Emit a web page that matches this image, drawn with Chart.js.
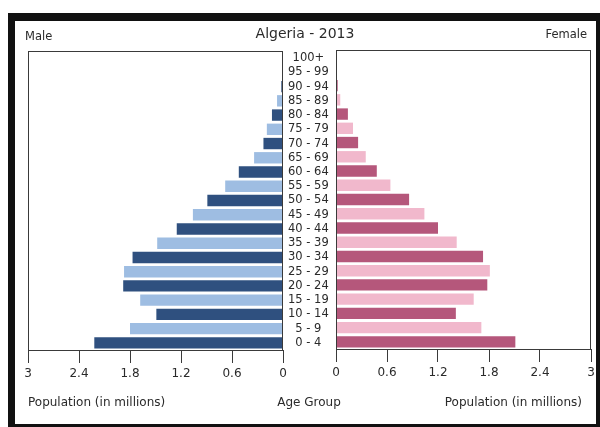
<!DOCTYPE html>
<html>
<head>
<meta charset="utf-8">
<script src="https://cdn.jsdelivr.net/npm/chart.js@4"></script>
<style>
  body { margin: 0; background: #fff; font-family: "DejaVu Sans", sans-serif; color: #2a2a2a; }
  #frame { position: absolute; left: 8px; top: 13px; width: 592px; height: 414px; box-sizing: border-box;
           border-style: solid; border-color: #111; border-width: 8px 4px 3px 7px; }
  .txt { position: absolute; white-space: nowrap; line-height: 1; }
  .box { position: absolute; top: 0; height: 427px; }
</style>
</head>
<body>
<div id="frame"></div>
<div class="box" style="left:0;width:336px"><canvas id="chartMale"></canvas></div>
<div class="box" style="left:320px;width:280px"><canvas id="chartFemale"></canvas></div>

<div class="txt" style="left:25px;top:31px;font-size:11.5px">Male</div>
<div class="txt" style="left:305px;top:26px;font-size:14px;transform:translateX(-50%)">Algeria - 2013</div>
<div class="txt" style="right:13px;top:29px;font-size:11.5px">Female</div>
<div class="txt" style="left:28px;top:396px;font-size:12px">Population (in millions)</div>
<div class="txt" style="left:309px;top:396px;font-size:12px;transform:translateX(-50%)">Age Group</div>
<div class="txt" style="right:18px;top:396px;font-size:12px">Population (in millions)</div>

<script>
// Data Algeria 2013 (juta jiwa), urut dari umur muda ke tua
const ageGroups = ['0 - 4', '5 - 9', '10 - 14', '15 - 19', '20 - 24', '25 - 29', '30 - 34', '35 - 39',
  '40 - 44', '45 - 49', '50 - 54', '55 - 59', '60 - 64', '65 - 69', '70 - 74', '75 - 79',
  '80 - 84', '85 - 89', '90 - 94', '95 - 99', '100+'];
const maleValues = [2.22, 1.80, 1.49, 1.68, 1.88, 1.87, 1.77, 1.48, 1.25, 1.06, 0.89,
  0.68, 0.52, 0.34, 0.23, 0.19, 0.13, 0.07, 0.02, 0.01, 0];
const femaleValues = [2.11, 1.71, 1.41, 1.62, 1.78, 1.81, 1.73, 1.42, 1.20, 1.04, 0.86,
  0.64, 0.48, 0.35, 0.26, 0.20, 0.14, 0.05, 0.02, 0, 0];
const tickValues = [0, 0.6, 1.2, 1.8, 2.4, 3];
const tickLabels = ['0', '0.6', '1.2', '1.8', '2.4', '3'];

// Warna selang-seling (gelap untuk 0-4, 10-14, ...)
const maleColors = ageGroups.map((a, i) => i % 2 === 0 ? '#2f507f' : '#9ebde2');
const femaleColors = ageGroups.map((a, i) => i % 2 === 0 ? '#b5577b' : '#f1b8cc');

// Kotak garis di sekeliling area plot
const boxPlugin = {
  id: 'plotBox',
  afterDraw(chart) {
    const a = chart.chartArea;
    const c = chart.ctx;
    c.save();
    c.strokeStyle = '#3a3a3a';
    c.lineWidth = 1;
    c.strokeRect(Math.round(a.left) + 0.5, Math.round(a.top) + 0.5,
      Math.round(a.right - a.left) - 1, Math.round(a.bottom - a.top));
    c.restore();
  }
};

function xAxis(reverse, axisHeight) {
  return {
    type: 'linear',
    min: 0,
    max: 3,
    reverse: reverse,
    afterBuildTicks: (scale) => { scale.ticks = tickValues.map(v => ({ value: v })); },
    afterFit: (scale) => { scale.height = axisHeight; },
    grid: { drawOnChartArea: false, tickLength: 13, color: '#3a3a3a', lineWidth: 1 },
    border: { display: false },
    ticks: {
      padding: 4,
      color: '#2a2a2a',
      font: { family: 'DejaVu Sans', size: 12 },
      maxRotation: 0,
      callback: (v, i) => tickLabels[i]
    }
  };
}

Chart.defaults.font.family = 'DejaVu Sans';

new Chart(document.getElementById('chartMale'), {
  type: 'bar',
  data: {
    labels: ageGroups,
    datasets: [{ data: maleValues, backgroundColor: maleColors, borderWidth: 0,
      barPercentage: 0.8, categoryPercentage: 1.0 }]
  },
  options: {
    indexAxis: 'y',
    responsive: true,
    maintainAspectRatio: false,
    animation: false,
    layout: { padding: { left: 28, top: 51, right: 0, bottom: 0 } },
    plugins: { legend: { display: false }, tooltip: { enabled: false } },
    scales: {
      x: xAxis(true, 77),
      y: {
        position: 'right',
        reverse: true,
        afterFit: (scale) => { scale.width = 53; },
        grid: { display: false, drawTicks: false },
        border: { display: false },
        ticks: { crossAlign: 'center', padding: 5, color: '#2a2a2a', autoSkip: false,
          font: { family: 'DejaVu Sans', size: 11.5 } }
      }
    }
  },
  plugins: [boxPlugin]
});

new Chart(document.getElementById('chartFemale'), {
  type: 'bar',
  data: {
    labels: ageGroups,
    datasets: [{ data: femaleValues, backgroundColor: femaleColors, borderWidth: 0,
      barPercentage: 0.8, categoryPercentage: 1.0 }]
  },
  options: {
    indexAxis: 'y',
    responsive: true,
    maintainAspectRatio: false,
    animation: false,
    layout: { padding: { left: 16, top: 50, right: 9, bottom: 0 } },
    plugins: { legend: { display: false }, tooltip: { enabled: false } },
    scales: {
      x: xAxis(false, 78),
      y: { display: false, reverse: true }
    }
  },
  plugins: [boxPlugin]
});
</script>
</body>
</html>
